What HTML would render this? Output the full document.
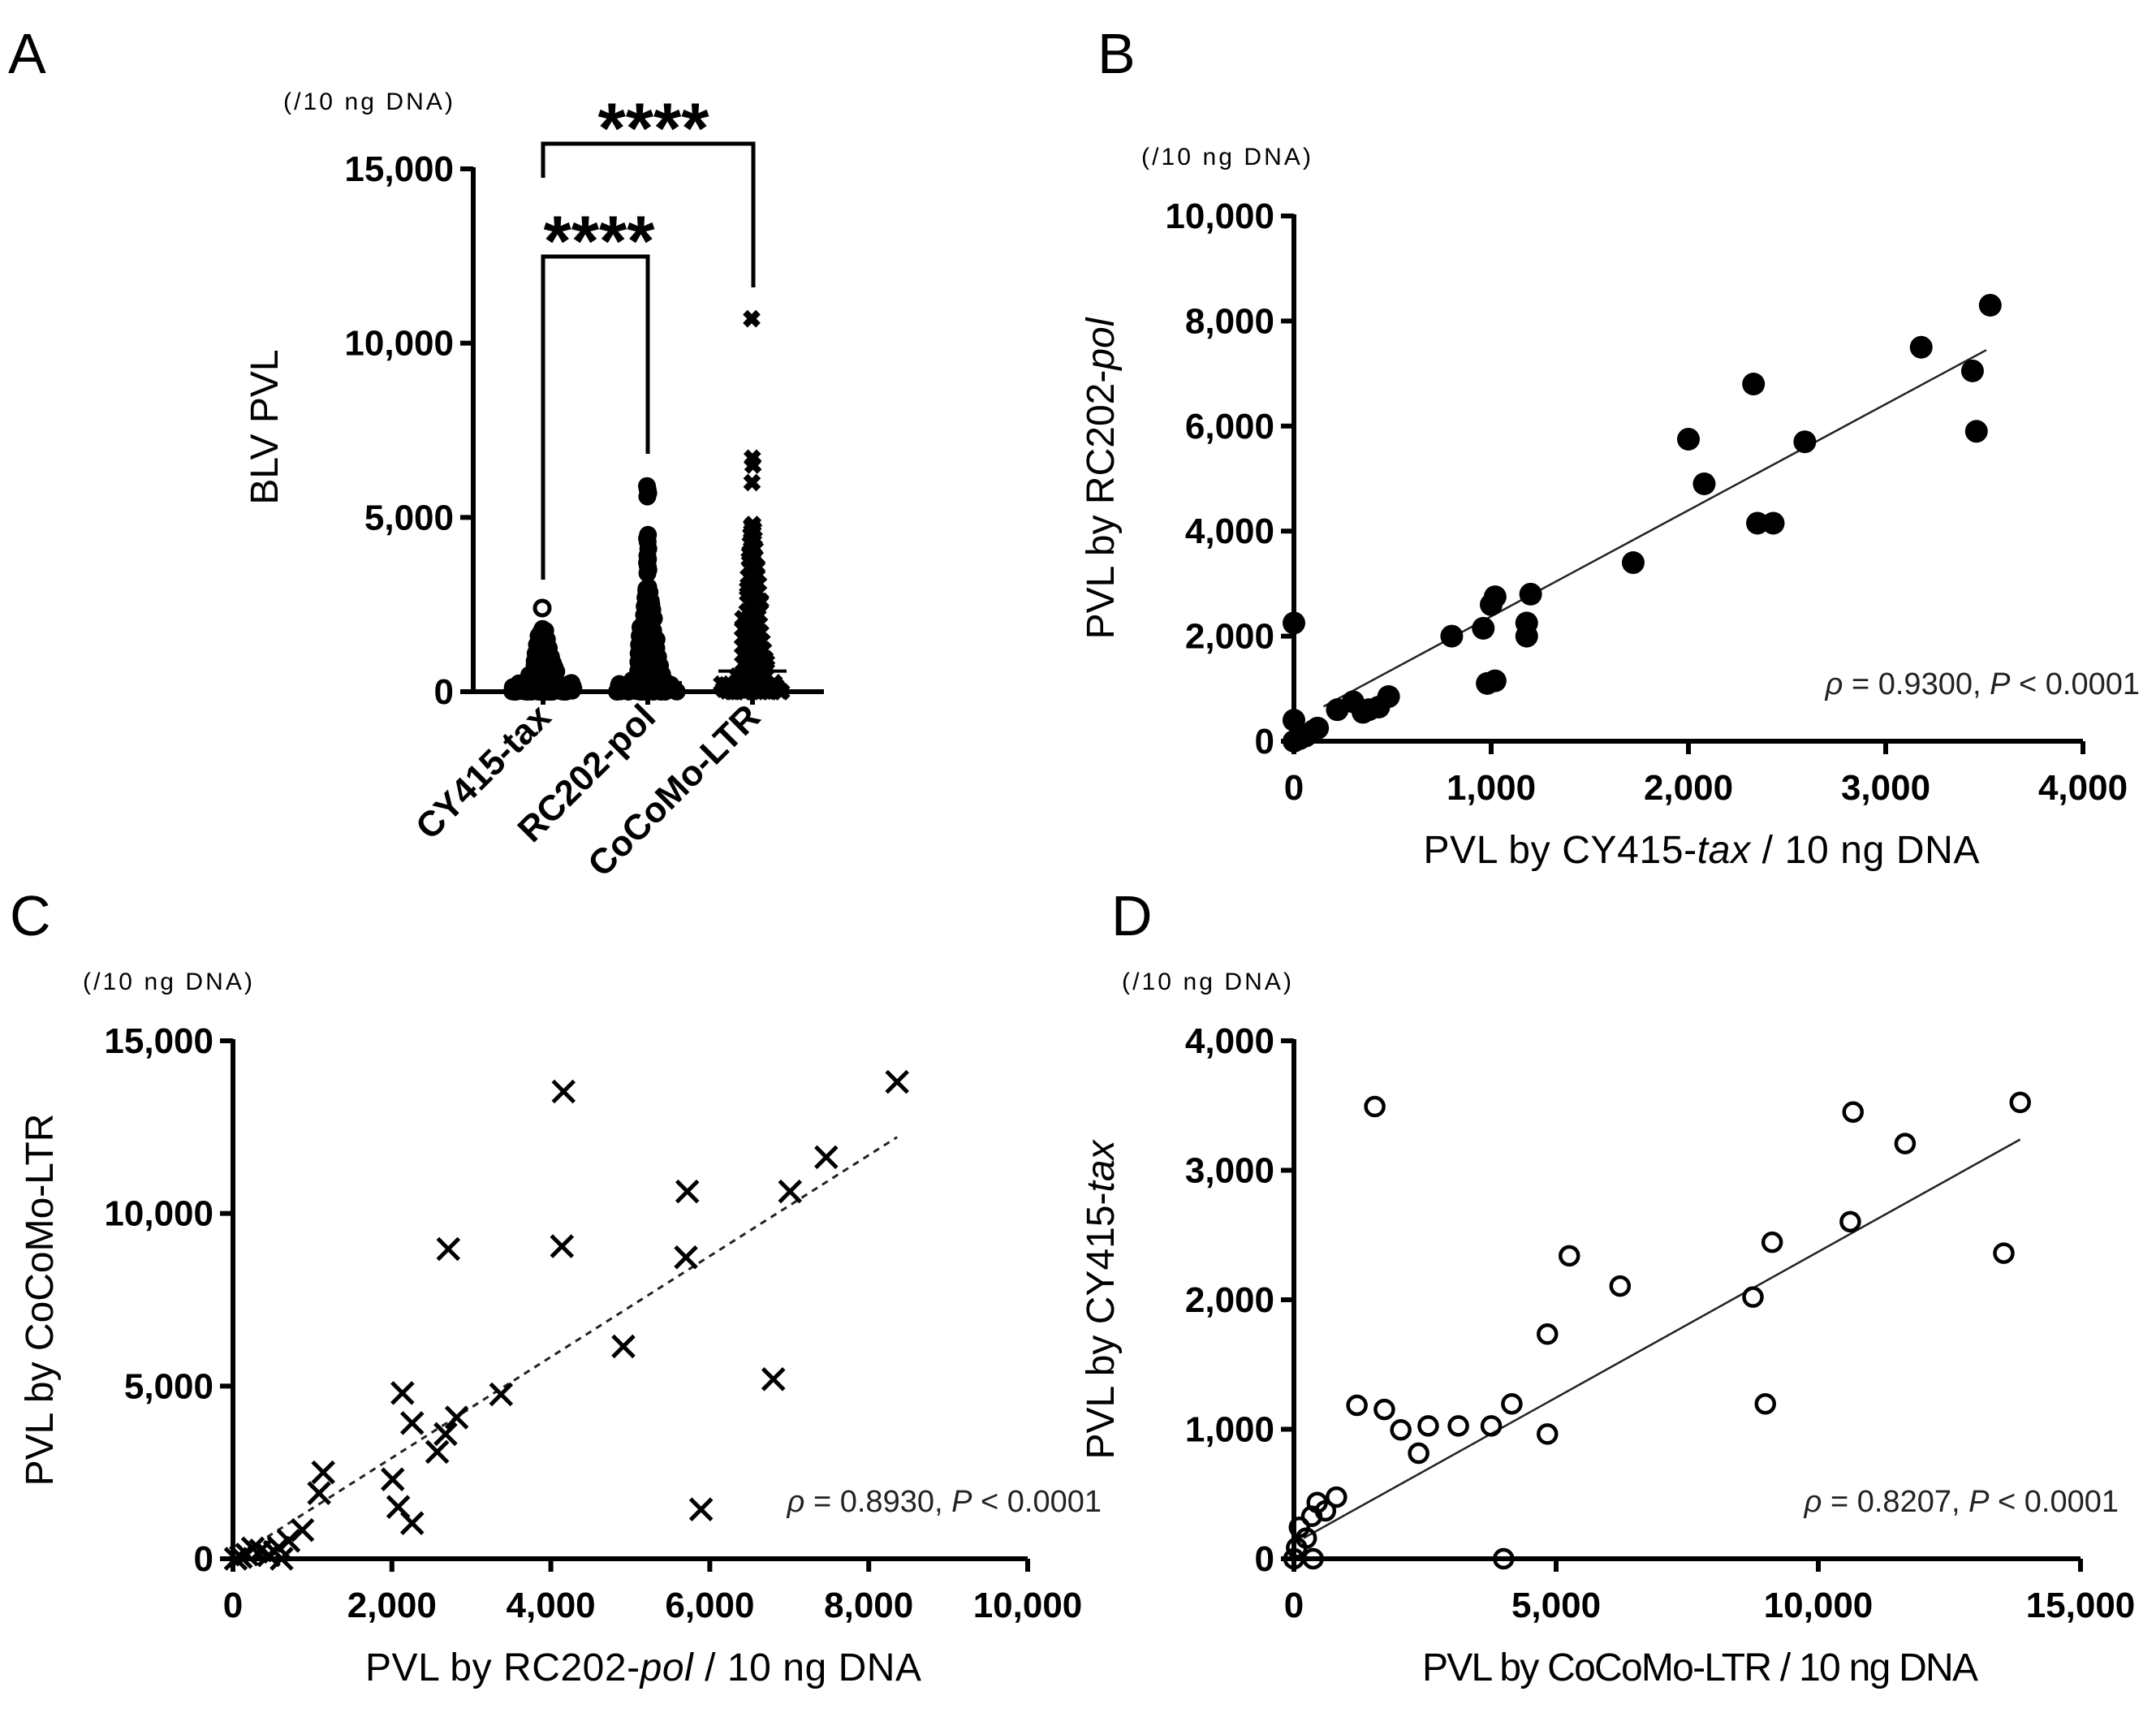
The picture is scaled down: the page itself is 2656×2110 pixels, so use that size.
<!DOCTYPE html>
<html><head><meta charset="utf-8"><style>
body{margin:0;background:#fff}
svg{display:block;font-family:"Liberation Sans",Arial,sans-serif}
</style></head><body>
<svg id="fig" width="2656" height="2110" viewBox="0 0 2656 2110" xmlns="http://www.w3.org/2000/svg"></svg>
<script>
// ---------- DATA ----------
const catsA = ["CY415-tax","RC202-pol","CoCoMo-LTR"];
const ticksA = [0,5000,10000,15000];
const cy415Vals = [2400,1800,1750,1700,1650,1600,1550,1500,1450,1400,1350,1300,1250,1200,1150,1100,1050,1000,950,900,880,850,820,800,780,750,720,700,680,650,620,600,580,560,540,520,500,480,460,440,420,400,380,360,340,320,300,300,280,280,260,260,240,240,220,220,200,200,200,180,180,180,160,160,160,150,150,140,140,130,130,120,120,110,110,100,100,100,90,90,80,80,80,70,70,60,60,60,50,50,50,40,40,40,30,30,30,20,20,20,10,10,10,5,5,0,0,0,0,0,0,0,0,0,150,120,90,60,30,0,200,170,140,110,80,50,20,0,250,220,190,160,130,100,70,40,10,0];
const rc202Vals = [5900,5800,5700,5600,4500,4400,4300,4100,3900,3800,3700,3600,3500,3400,3000,2950,2900,2850,2800,2750,2700,2650,2600,2550,2500,2450,2400,2350,2300,2250,2200,2150,2100,2050,2000,1950,1900,1850,1800,1750,1700,1650,1600,1550,1500,1450,1400,1350,1300,1250,1200,1150,1100,1050,1000,950,900,850,800,750,700,650,600,550,500,450,400,380,350,330,300,280,260,240,220,200,200,180,180,160,160,140,140,120,120,100,100,90,80,70,60,50,40,30,20,10,5,0,0,0,0,0,0,250,220,190,160,130,100,70,40,10,0,200,170,140,110,80,50,20,0,2900,2700,2500,2300,2100,1900,1700,1500,1300,1100,900,700];
const cocomoVals = [10700,6700,6500,6000,4800,4750,4700,4650,4600,4550,4500,4450,4400,4350,4300,4250,4200,4100,4000,3900,3800,3700,3600,3500,3400,3300,3200,3100,3000,2900,2800,2700,2600,2500,2400,2300,2200,2100,2000,1950,1900,1850,1800,1750,1700,1650,1600,1550,1500,1450,1400,1350,1300,1250,1200,1150,1100,1050,1000,950,900,850,800,750,700,650,600,550,500,450,400,380,350,320,300,280,260,240,220,200,180,160,140,120,100,90,80,70,60,50,40,30,20,10,5,0,0,0,0,0,250,220,190,160,130,100,70,40,10,0,200,170,140,110,80,50,20,0,4650,4450,4150,3950,3750,3550,3350,3150,2950,2750,2550,2350,2150,1050,950,850,750,650];
const meanA = [180,260,590];

const ticksBx = [0,1000,2000,3000,4000];
const ticksBy = [0,2000,4000,6000,8000,10000];
const bX = [0,0,0,30,60,100,120,220,300,350,380,430,480,800,960,980,1020,1000,1020,1180,1180,1200,1720,2000,2080,2330,2350,2430,2590,3180,3440,3460,3530];
const bY = [2250,400,0,50,100,200,250,600,750,550,600,650,850,2000,2150,1100,1150,2600,2750,2000,2250,2800,3400,5750,4900,6800,4150,4150,5700,7500,7050,5900,8300];
const fitB = [150,3510,357,2.02];

const ticksCx = [0,2000,4000,6000,8000,10000];
const ticksCy = [0,5000,10000,15000];
const cX = [8357,4160,7465,5717,7010,2710,4140,5700,4913,6800,3374,2133,2255,2815,2675,2570,1136,1084,2010,2080,2255,5890,874,700,577,350,175,35,612,525,250,450,100];
const cY = [13810,13530,11630,10635,10635,8970,9050,8730,6150,5200,4760,4800,3930,4090,3610,3095,2500,1900,2300,1500,1030,1430,830,520,320,240,120,0,0,200,300,100,50];
const fitC = [300,8357,0,1.461];

const ticksDx = [0,5000,10000,15000];
const ticksDy = [0,1000,2000,3000,4000];
const dX = [13850,10662,1542,11655,9120,5252,13537,6220,10610,8754,4834,8990,1202,1725,4155,2038,2561,3136,3763,4834,2378,810,444,601,340,105,235,3998,366,52,0];
const dY = [3524,3450,3492,3206,2444,2339,2360,2106,2603,2021,1735,1196,1185,1153,1196,995,1026,1026,1026,963,815,476,434,370,328,243,159,0,0,85,0];
const fitD = [183,13850,118,0.2253];

// ---------- HELPERS ----------
const NS="http://www.w3.org/2000/svg";
const svg=document.getElementById('fig');
function mk(tag,attrs,parent){const e=document.createElementNS(NS,tag);for(const k in attrs)e.setAttribute(k,attrs[k]);(parent||svg).appendChild(e);return e;}
function fmt(v){return v.toLocaleString('en-US');}
function txt(s,attrs,parent){const t=mk('text',attrs,parent);t.textContent=s;return t;}

function axes(name,ox,oy,x1,y1,xt,yt,xs,ys,xmin,showX){
  const g=mk('g',{});
  
  
  mk('line',{x1:ox,y1:oy,x2:ox,y2:y1-2,stroke:'#000','stroke-width':6},g);
  mk('line',{x1:xmin,y1:oy,x2:x1,y2:oy,stroke:'#000','stroke-width':6},g);
  yt.forEach(v=>{const y=ys(v);
    mk('line',{x1:ox-16,y1:y,x2:ox,y2:y,stroke:'#000','stroke-width':6},g);
    const t=txt(fmt(v),{x:ox-24,y:y+15,'text-anchor':'end','font-size':44,'font-weight':'bold'},g);
    
    
  });
  if(showX) xt.forEach(v=>{const x=xs(v);
    mk('line',{x1:x,y1:oy,x2:x,y2:oy+16,stroke:'#000','stroke-width':6},g);
    const t=txt(fmt(v),{x:x,y:oy+72,'text-anchor':'middle','font-size':44,'font-weight':'bold'},g);
    
    
  });
}
function label(s,x,y,size,name,opts){const t=txt(s,Object.assign({x:x,y:y,'font-size':size},opts||{}));return t;}

// ---------- PANEL A ----------
(function(){
  const ox=583,oy=852,top=208;
  const ys=v=>oy-(v/15000)*(oy-top);
  const cx=[669,798,927];
  axes('panel-a',ox,oy,1015,top,[],ticksA,null,ys,ox,false);
  cx.forEach((x,i)=>{mk('line',{x1:x,y1:oy,x2:x,y2:oy+16,stroke:'#000','stroke-width':6});
    const t=txt(catsA[i],{x:x+12,y:oy+34,'text-anchor':'end','font-size':44,'font-weight':'bold',transform:`rotate(-45 ${x+12} ${oy+34})`});
    
    
  });
  const groups=[cy415Vals,rc202Vals,cocomoVals];
  const maxes=[1900,3000,4800];
  groups.forEach((vals,gi)=>{
    const g=mk('g',{});
    
    
    vals.forEach((v,i)=>{
      const hw = v<=260 ? 38 : Math.max(1, 20*(1-(v-260)/maxes[gi]));
      const off=(((i*7919)%101)/101-0.5)*2*hw;
      const x=cx[gi]+off,y=ys(v);
      let m;
      if(gi===0 && v===2400){m=mk('circle',{cx:x,cy:y,r:9,fill:'none',stroke:'#000','stroke-width':5},g);}
      else if(gi===2){const s=8;m=mk('path',{d:`M${x-s} ${y-s}L${x+s} ${y+s}M${x-s} ${y+s}L${x+s} ${y-s}`,stroke:'#000','stroke-width':8},g);}
      else {m=mk('circle',{cx:x,cy:y,r:11,fill:'#000'},g);}
      
      
    });
    const ml=mk('line',{x1:cx[gi]-42,x2:cx[gi]+42,y1:ys(meanA[gi]),y2:ys(meanA[gi]),stroke:'#000','stroke-width':4});
    
    
  });
  // brackets
  const br=mk('path',{d:`M669 219V177H928V354 M669 714V316H798V559`,fill:'none',stroke:'#000','stroke-width':5});
  
  
  label('****',805,188,88,'significance-stars',{'text-anchor':'middle','font-weight':'bold'});
  label('****',738,327,88,'significance-stars',{'text-anchor':'middle','font-weight':'bold'});
  label('(/10 ng DNA)',349,135,30,'y-unit-label',{textLength:209});
  label('BLV PVL',0,0,48,'y-axis-title',{'text-anchor':'middle',transform:'translate(342 526) rotate(-90)'});
  label('A',10,90,70,'panel-label');
})();

// ---------- SCATTER ----------
function scatter(name,ox,oy,xr,top,xmax,ymax,xt,yt,xs0,ys0,fit,marker,dashed,xt_title,yt_title,stat,statX,unitX,letter,letterX,letterY){
  const xs=v=>ox+(v/xmax)*(xr-ox);
  const ys=v=>oy-(v/ymax)*(oy-top);
  axes(name,ox,oy,xr,top,xt,yt,xs,ys,ox-6,true);
  const fl=mk('line',{x1:xs(fit[0]),y1:ys(fit[2]+fit[3]*fit[0]),x2:xs(fit[1]),y2:ys(fit[2]+fit[3]*fit[1]),stroke:'#222','stroke-width':dashed?3:2.5,'stroke-dasharray':dashed?'8 7':'none'});
  
  
  const g=mk('g',{});
  
  
  xs0.forEach((v,i)=>{const x=xs(v),y=ys(ys0[i]);let m;
    if(marker==='dot') m=mk('circle',{cx:x,cy:y,r:14,fill:'#000'},g);
    else if(marker==='ring') m=mk('circle',{cx:x,cy:y,r:11,fill:'none',stroke:'#000','stroke-width':4.5},g);
    else {const s=13;m=mk('path',{d:`M${x-s} ${y-s}L${x+s} ${y+s}M${x-s} ${y+s}L${x+s} ${y-s}`,stroke:'#000','stroke-width':5},g);}
    
    
  });
  const xt2=label('',(ox+xr)/2+16,oy+150,48,'x-axis-title',{'text-anchor':'middle',textLength:685});
  xt_title.forEach(p=>{const s=document.createElementNS(NS,'tspan');s.textContent=p[0];if(p[1])s.setAttribute('font-style','italic');xt2.appendChild(s);});
  const yt2=label('',0,0,48,'y-axis-title',{'text-anchor':'middle',transform:`translate(${ox-222} ${(oy+top)/2}) rotate(-90)`});
  yt_title.forEach(p=>{const s=document.createElementNS(NS,'tspan');s.textContent=p[0];if(p[1])s.setAttribute('font-style','italic');yt2.appendChild(s);});
  const st=label('',statX,oy-58,38,'stats-annotation',{'text-anchor':'end',fill:'#222'});
  [['ρ',1],[' = '+stat+', '],['P',1],[' < 0.0001']].forEach(p=>{const s=document.createElementNS(NS,'tspan');s.textContent=p[0];if(p[1])s.setAttribute('font-style','italic');st.appendChild(s);});
  label('(/10 ng DNA)',unitX,top-63,30,'y-unit-label',{textLength:209});
  label(letter,letterX,letterY,70,'panel-label');
}
scatter('panel-b',1594,913,2566,266,4000,10000,ticksBx,ticksBy,bX,bY,fitB,'dot',false,
  [['PVL by CY415-'],['tax',1],[' / 10 ng DNA']],[['PVL by RC202-'],['pol',1]],'0.9300',2636,1406,'B',1352,90);
scatter('panel-c',287,1920,1266,1282,10000,15000,ticksCx,ticksCy,cX,cY,fitC,'cross',true,
  [['PVL by RC202-'],['pol',1],[' / 10 ng DNA']],[['PVL by CoCoMo-LTR']],'0.8930',1357,102,'C',12,1152);
scatter('panel-d',1594,1920,2563,1282,15000,4000,ticksDx,ticksDy,dX,dY,fitD,'ring',false,
  [['PVL by CoCoMo-LTR / 10 ng DNA']],[['PVL by CY415-'],['tax',1]],'0.8207',2610,1382,'D',1369,1152);
</script>
</body></html>
